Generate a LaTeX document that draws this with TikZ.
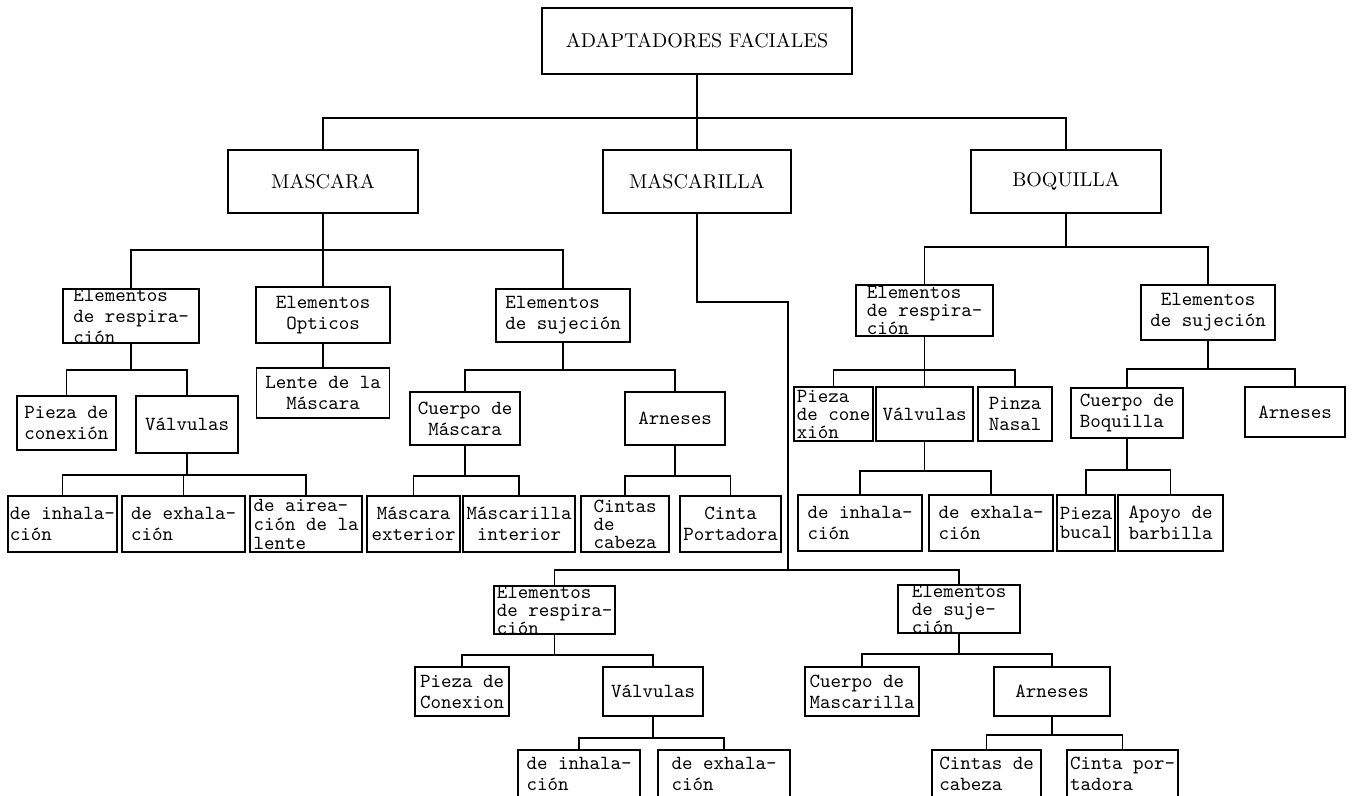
\documentclass[tikz,border=0pt]{standalone}
\usepackage{fontspec}
\usepackage{tikz}

\begin{document}
\begin{tikzpicture}[x=0.5pt, y=-0.5pt, line width=0.8pt,
    caja/.style={draw, line width=0.9pt, inner xsep=0.5pt, inner ysep=0pt, align=center,
        font=\ttfamily\fontsize{10}{10.5}\selectfont},
    izq/.style={align=left},
    apretada/.style={font=\ttfamily\fontsize{10}{9}\selectfont},
    media/.style={font=\ttfamily\fontsize{10}{9.5}\selectfont},
    titulo/.style={font=\rmfamily\fontsize{10}{12}\selectfont}]
    % Marco del dibujo
    \fill[white] (0,0) rectangle (1353,796);
    \useasboundingbox (0,0) rectangle (1353,796);

    % Nivel superior
    \node[caja, titulo, minimum width=155pt, minimum height=33pt] (adf) at (697,41) {ADAPTADORES FACIALES};
    \node[caja, titulo, minimum width=95pt, minimum height=31.5pt] (masc) at (323,181.5) {MASCARA};
    \node[caja, titulo, minimum width=94pt, minimum height=31.5pt] (mcl) at (697,181.5) {MASCARILLA};
    \node[caja, titulo, minimum width=95pt, minimum height=31.5pt] (boq) at (1066,181.5) {BOQUILLA};

    % Rama de la mascara
    \node[caja, izq, minimum width=68pt, minimum height=27pt] (mresp) at (131,316) {Elementos\\de respira-\\ción};
    \node[caja, minimum width=67pt, minimum height=28pt] (mopt) at (323,315) {Elementos\\Opticos};
    \node[caja, izq, minimum width=67pt, minimum height=26.5pt] (msuj) at (563,315.5) {Elementos\\de sujeción};
    \node[caja, minimum width=49.5pt, minimum height=27pt] (mpieza) at (66.5,423) {Pieza de\\conexión};
    \node[caja, minimum width=51pt, minimum height=28.5pt] (mval) at (187,424.5) {Válvulas};
    \node[caja, minimum width=66.5pt, minimum height=25pt] (mlente) at (323,393) {Lente de la\\Máscara};
    \node[caja, minimum width=55pt, minimum height=26.5pt] (mcuerpo) at (465,418.5) {Cuerpo de\\Máscara};
    \node[caja, minimum width=50pt, minimum height=26.5pt] (marn) at (675,418.5) {Arneses};
    \node[caja, izq, minimum width=54.5pt, minimum height=28pt] (minh) at (62.5,524) {de inhala-\\ción};
    \node[caja, izq, minimum width=61.5pt, minimum height=28pt] (mexh) at (183.5,524) {de exhala-\\ción};
    \node[caja, izq, media, minimum width=56pt, minimum height=28pt] (mair) at (306,524) {de airea-\\ción de la\\lente};
    \node[caja, minimum width=46.5pt, minimum height=28pt] (mext) at (413.5,524) {Máscara\\exterior};
    \node[caja, minimum width=56pt, minimum height=28pt] (mint) at (519,524) {Máscarilla\\interior};
    \node[caja, izq, apretada, minimum width=44pt, minimum height=28pt] (mcint) at (625,524) {Cintas\\de\\cabeza};
    \node[caja, minimum width=50.5pt, minimum height=28pt] (mport) at (730.5,524) {Cinta\\Portadora};

    % Rama de la boquilla
    \node[caja, izq, apretada, minimum width=68.5pt, minimum height=25.5pt] (bresp) at (924.5,310.5) {Elementos\\de respira-\\ción};
    \node[caja, minimum width=67pt, minimum height=27.5pt] (bsuj) at (1208,312.5) {Elementos\\de sujeción};
    \node[caja, izq, apretada, minimum width=39.5pt, minimum height=27pt] (bpieza) at (833.5,414) {Pieza\\de cone\\xión};
    \node[caja, minimum width=48.5pt, minimum height=27pt] (bval) at (924.5,414) {Válvulas};
    \node[caja, minimum width=37pt, minimum height=27pt] (bpinza) at (1015,414) {Pinza\\Nasal};
    \node[caja, izq, minimum width=56pt, minimum height=25pt] (bcuerpo) at (1127,413) {Cuerpo de\\Boquilla};
    \node[caja, minimum width=50pt, minimum height=25pt] (barn) at (1295,412) {Arneses};
    \node[caja, izq, minimum width=62pt, minimum height=28pt] (binh) at (860,523) {de inhala-\\ción};
    \node[caja, izq, minimum width=62pt, minimum height=28pt] (bexh) at (991,523) {de exhala-\\ción};
    \node[caja, media, minimum width=29pt, minimum height=28pt] (bbucal) at (1086,523) {Pieza\\bucal};
    \node[caja, izq, minimum width=52.5pt, minimum height=28pt] (bbarb) at (1170.5,523) {Apoyo de\\barbilla};

    % Rama de la mascarilla
    \coordinate (codo) at (788,302);
    \coordinate (nudo) at (788,570);
    \node[caja, izq, apretada, minimum width=60.5pt, minimum height=24pt] (cresp) at (554.5,610) {Elementos\\de respira-\\ción};
    \node[caja, izq, apretada, minimum width=61pt, minimum height=24pt] (csuj) at (959,609) {Elementos\\de suje-\\ción};
    \node[caja, izq, minimum width=47pt, minimum height=24.5pt] (cpieza) at (462,691.5) {Pieza de\\Conexion};
    \node[caja, minimum width=50pt, minimum height=24.5pt] (cval) at (653,691.5) {Válvulas};
    \node[caja, izq, minimum width=57pt, minimum height=24.5pt] (ccuerpo) at (862,691.5) {Cuerpo de\\Mascarilla};
    \node[caja, minimum width=58pt, minimum height=24.5pt] (carn) at (1052,691.5) {Arneses};
    \node[caja, izq, minimum width=61pt, minimum height=24pt] (cinh) at (579,774) {de inhala-\\ción};
    \node[caja, izq, minimum width=66pt, minimum height=24pt] (cexh) at (724,774) {de exhala-\\ción};
    \node[caja, izq, minimum width=54.5pt, minimum height=24pt] (ccint) at (986.5,774) {Cintas de\\cabeza};
    \node[caja, izq, minimum width=55.5pt, minimum height=24pt] (cport) at (1122.5,774) {Cinta por-\\tadora};

    % Conexiones
    \foreach \h in {masc,mcl,boq} \draw (adf.south) -- ++(0,43) -| (\h.north);
    \foreach \h in {mresp,mopt,msuj} \draw (masc.south) -- ++(0,36) -| (\h.north);
    \draw (mopt) -- (mlente);
    \foreach \h in {mpieza,mval} \draw (mresp.south) -- ++(0,26) -| (\h.north);
    \foreach \h in {minh,mexh,mair} \draw (mval.south) -- ++(0,21) -| (\h.north);
    \foreach \h in {mcuerpo,marn} \draw (msuj.south) -- ++(0,27) -| (\h.north);
    \foreach \h in {mext,mint} \draw (mcuerpo.south) -- ++(0,30) -| (\h.north);
    \foreach \h in {mcint,mport} \draw (marn.south) -- ++(0,30) -| (\h.north);
    \foreach \h in {bresp,bsuj} \draw (boq.south) -- ++(0,33) -| (\h.north);
    \foreach \h in {bpieza,bval,bpinza} \draw (bresp.south) -- ++(0,33) -| (\h.north);
    \foreach \h in {bcuerpo,barn} \draw (bsuj.south) -- ++(0,28) -| (\h.north);
    \foreach \h in {binh,bexh} \draw (bval.south) -- ++(0,29) -| (\h.north);
    \foreach \h in {bbucal,bbarb} \draw (bcuerpo.south) -- ++(0,31) -| (\h.north);
    \draw (mcl.south) |- (codo) -- (nudo);
    \foreach \h in {cresp,csuj} \draw (nudo) -| (\h.north);
    \foreach \h in {cpieza,cval} \draw (cresp.south) -- ++(0,20) -| (\h.north);
    \foreach \h in {cinh,cexh} \draw (cval.south) -- ++(0,21) -| (\h.north);
    \foreach \h in {ccuerpo,carn} \draw (csuj.south) -- ++(0,20) -| (\h.north);
    \foreach \h in {ccint,cport} \draw (carn.south) -- ++(0,18) -| (\h.north);
\end{tikzpicture}
\end{document}
